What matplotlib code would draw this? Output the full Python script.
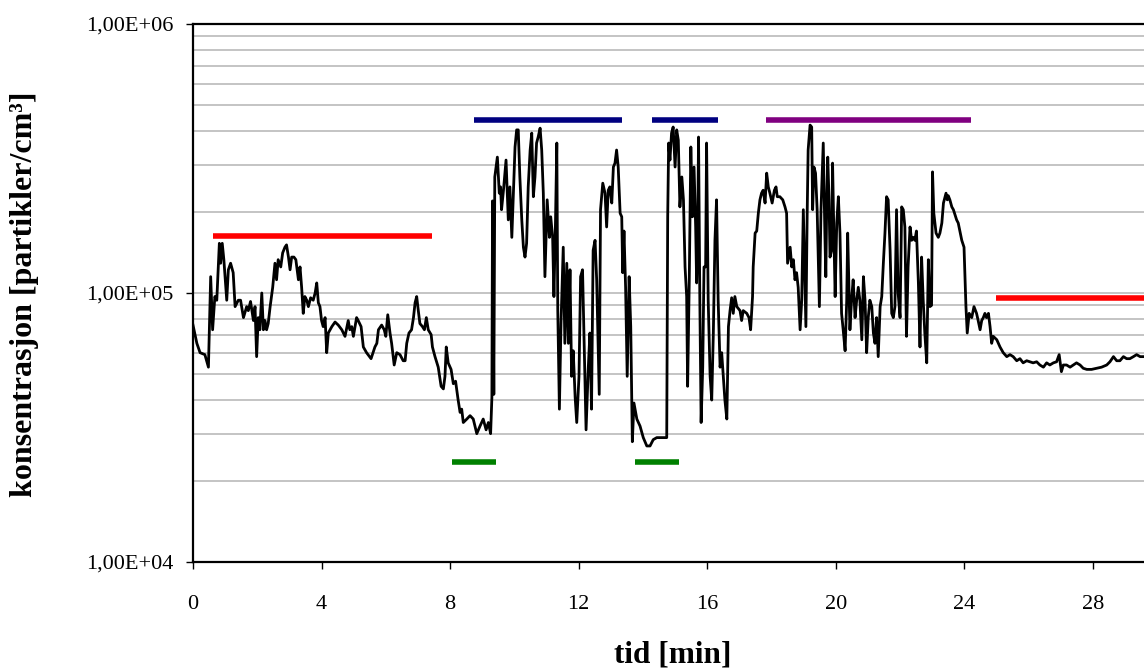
import matplotlib
matplotlib.use("Agg")
import matplotlib.pyplot as plt
from matplotlib.ticker import LogLocator, FuncFormatter, NullFormatter, FixedLocator

# ---- data ----
time_min = [
    0.00, 0.12, 0.22, 0.37, 0.48, 0.55, 0.61, 0.68, 0.74, 0.82, 0.86, 0.91, 0.96, 1.05, 1.10, 1.17, 1.25, 1.31,
    1.41, 1.48, 1.52, 1.57, 1.67, 1.72, 1.79, 1.88, 1.93, 1.98, 2.03, 2.08, 2.14, 2.19, 2.24, 2.29, 2.34, 2.40,
    2.48, 2.55, 2.60, 2.65, 2.73, 2.79, 2.86, 2.91, 2.97, 3.02, 3.07, 3.14, 3.20, 3.28, 3.33, 3.38, 3.43, 3.48,
    3.54, 3.59, 3.66, 3.74, 3.80, 3.85, 3.90, 3.95, 4.00, 4.05, 4.11, 4.16, 4.21, 4.32, 4.42, 4.52, 4.63, 4.73,
    4.83, 4.88, 4.94, 4.99, 5.09, 5.14, 5.23, 5.30, 5.40, 5.54, 5.66, 5.72, 5.77, 5.87, 5.95, 6.00, 6.06, 6.13,
    6.18, 6.26, 6.34, 6.44, 6.54, 6.60, 6.65, 6.72, 6.80, 6.86, 6.91, 6.96, 7.01, 7.06, 7.14, 7.20, 7.26, 7.32,
    7.41, 7.45, 7.53, 7.63, 7.72, 7.79, 7.84, 7.88, 7.94, 8.03, 8.10, 8.17, 8.25, 8.31, 8.36, 8.41, 8.52, 8.62,
    8.72, 8.83, 8.93, 9.03, 9.12, 9.19, 9.26, 9.30, 9.32, 9.36, 9.39, 9.47, 9.53, 9.57, 9.60, 9.66, 9.74, 9.81,
    9.86, 9.92, 9.97, 10.02, 10.07, 10.12, 10.17, 10.23, 10.28, 10.33, 10.38, 10.43, 10.49, 10.54, 10.59, 10.64,
    10.69, 10.74, 10.80, 10.85, 10.90, 10.95, 11.02, 11.09, 11.13, 11.19, 11.23, 11.28, 11.32, 11.35, 11.40,
    11.45, 11.52, 11.57, 11.63, 11.68, 11.73, 11.78, 11.83, 11.89, 11.94, 12.01, 12.06, 12.12, 12.17, 12.23,
    12.30, 12.35, 12.40, 12.45, 12.51, 12.56, 12.64, 12.68, 12.75, 12.82, 12.87, 12.92, 12.97, 13.03, 13.08,
    13.13, 13.18, 13.23, 13.29, 13.34, 13.37, 13.41, 13.46, 13.51, 13.57, 13.62, 13.67, 13.72, 13.81, 13.91,
    14.01, 14.12, 14.22, 14.32, 14.43, 14.53, 14.63, 14.74, 14.77, 14.80, 14.84, 14.89, 14.94, 15.00, 15.05,
    15.10, 15.15, 15.21, 15.26, 15.31, 15.36, 15.39, 15.44, 15.49, 15.54, 15.59, 15.64, 15.67, 15.70, 15.73,
    15.77, 15.81, 15.86, 15.90, 15.95, 15.98, 16.03, 16.09, 16.14, 16.19, 16.24, 16.29, 16.34, 16.40, 16.45,
    16.50, 16.55, 16.61, 16.66, 16.71, 16.76, 16.81, 16.86, 16.92, 17.02, 17.07, 17.12, 17.23, 17.30, 17.35,
    17.41, 17.43, 17.49, 17.54, 17.59, 17.64, 17.69, 17.74, 17.80, 17.85, 17.90, 17.95, 18.02, 18.09, 18.14,
    18.18, 18.26, 18.35, 18.42, 18.47, 18.50, 18.58, 18.63, 18.68, 18.73, 18.78, 18.83, 18.89, 18.94, 18.99,
    19.04, 19.07, 19.11, 19.14, 19.20, 19.25, 19.28, 19.32, 19.37, 19.42, 19.49, 19.54, 19.61, 19.66, 19.69,
    19.72, 19.75, 19.79, 19.82, 19.87, 19.90, 19.94, 19.98, 20.03, 20.08, 20.13, 20.18, 20.23, 20.29, 20.34,
    20.37, 20.41, 20.44, 20.49, 20.54, 20.60, 20.65, 20.70, 20.75, 20.81, 20.86, 20.91, 20.96, 21.01, 21.06,
    21.12, 21.17, 21.22, 21.27, 21.32, 21.38, 21.43, 21.48, 21.53, 21.58, 21.63, 21.69, 21.74, 21.79, 21.84,
    21.89, 21.94, 22.00, 22.05, 22.10, 22.15, 22.20, 22.25, 22.31, 22.36, 22.41, 22.46, 22.51, 22.57, 22.62,
    22.67, 22.72, 22.77, 22.83, 22.88, 22.93, 22.98, 23.01, 23.05, 23.12, 23.19, 23.24, 23.30, 23.35, 23.43,
    23.47, 23.50, 23.55, 23.61, 23.66, 23.71, 23.76, 23.81, 23.92, 23.99, 24.05, 24.09, 24.15, 24.23, 24.30,
    24.38, 24.43, 24.49, 24.54, 24.59, 24.64, 24.69, 24.75, 24.80, 24.85, 24.90, 25.01, 25.11, 25.21, 25.32,
    25.42, 25.52, 25.63, 25.73, 25.83, 25.94, 26.04, 26.14, 26.25, 26.35, 26.46, 26.56, 26.66, 26.77, 26.87,
    26.95, 27.02, 27.08, 27.18, 27.29, 27.39, 27.49, 27.60, 27.70, 27.81, 27.96, 28.12, 28.27, 28.43, 28.53,
    28.64, 28.74, 28.84, 28.95, 29.05, 29.15, 29.26, 29.36, 29.47, 29.59,
]

konsentrasjon = [
    7.6e4, 6.5e4, 6.0e4, 5.9e4, 5.3e4, 1.15e5, 7.3e4, 9.7e4, 9.4e4, 1.53e5, 1.29e5, 1.53e5, 1.33e5, 9.4e4, 1.22e5, 1.29e5, 1.19e5, 8.9e4,
    9.4e4, 9.4e4, 8.8e4, 8.1e4, 8.9e4, 8.6e4, 9.3e4, 7.9e4, 8.9e4, 5.8e4, 8.1e4, 7.3e4, 1.0e5, 7.3e4, 7.9e4, 7.3e4, 7.7e4, 8.9e4,
    1.05e5, 1.29e5, 1.12e5, 1.33e5, 1.25e5, 1.41e5, 1.48e5, 1.51e5, 1.36e5, 1.22e5, 1.36e5, 1.36e5, 1.33e5, 1.12e5, 1.25e5, 1.05e5, 8.4e4, 9.7e4,
    9.4e4, 8.9e4, 9.6e4, 9.4e4, 1.0e5, 1.09e5, 9.2e4, 8.9e4, 7.9e4, 7.5e4, 8.1e4, 6.0e4, 7.1e4, 7.5e4, 7.8e4, 7.6e4, 7.3e4, 6.9e4,
    7.9e4, 7.3e4, 7.5e4, 6.9e4, 8.1e4, 7.9e4, 7.5e4, 6.3e4, 6.0e4, 5.7e4, 6.3e4, 6.5e4, 7.3e4, 7.6e4, 7.3e4, 6.9e4, 8.3e4, 7.1e4,
    6.5e4, 5.4e4, 6.0e4, 5.9e4, 5.6e4, 5.6e4, 6.5e4, 7.1e4, 7.3e4, 8.1e4, 9.2e4, 9.7e4, 8.6e4, 7.7e4, 7.5e4, 7.3e4, 8.1e4, 7.3e4,
    7.0e4, 6.3e4, 5.8e4, 5.3e4, 4.5e4, 4.4e4, 4.9e4, 6.3e4, 5.5e4, 5.2e4, 4.6e4, 4.7e4, 4.0e4, 3.6e4, 3.7e4, 3.3e4, 3.4e4, 3.5e4,
    3.4e4, 3.0e4, 3.2e4, 3.4e4, 3.1e4, 3.3e4, 3.0e4, 4.1e4, 2.2e5, 4.2e4, 2.7e5, 3.2e5, 2.35e5, 2.48e5, 2.04e5, 2.41e5, 3.12e5, 1.87e5,
    2.48e5, 1.61e5, 2.35e5, 3.49e5, 4.04e5, 4.04e5, 2.7e5, 1.87e5, 1.48e5, 1.36e5, 1.53e5, 2.48e5, 3.4e5, 3.93e5, 2.28e5, 2.7e5,
    3.61e5, 3.8e5, 4.1e5, 3.4e5, 2.35e5, 1.15e5, 2.22e5, 1.61e5, 1.92e5, 1.61e5, 9.7e4, 1.87e5, 3.61e5, 8.6e4, 3.7e4,
    7.7e4, 1.48e5, 6.5e4, 1.29e5, 6.5e4, 1.22e5, 4.9e4, 6.1e4, 4.1e4, 3.3e4, 4.9e4, 1.15e5, 1.22e5, 6.5e4, 3.1e4,
    5.3e4, 7.1e4, 3.7e4, 1.44e5, 1.57e5, 1.12e5, 4.2e4, 2.04e5, 2.56e5, 2.35e5, 1.76e5, 2.41e5, 2.48e5, 2.16e5, 2.94e5,
    3.04e5, 3.4e5, 2.94e5, 1.98e5, 1.92e5, 1.19e5, 1.7e5, 1.05e5, 4.9e4, 1.15e5, 7.5e4, 2.8e4, 3.9e4, 3.4e4, 3.2e4,
    2.9e4, 2.7e4, 2.7e4, 2.85e4, 2.9e4, 2.9e4, 2.9e4, 2.9e4, 1.92e5, 3.61e5, 3.12e5, 3.93e5, 4.14e5, 2.94e5, 4.04e5,
    3.7e5, 2.09e5, 2.7e5, 2.22e5, 1.25e5, 9.7e4, 4.5e4, 1.09e5, 3.49e5, 1.92e5, 2.94e5, 1.76e5, 1.09e5, 1.57e5, 3.8e5,
    9.4e4, 3.3e4, 5.3e4, 1.25e5, 1.25e5, 3.61e5, 9.4e4, 4.9e4, 4.0e4, 7.1e4, 1.57e5, 2.22e5, 9.4e4, 5.3e4, 6.0e4,
    4.9e4, 4.0e4, 3.4e4, 7.5e4, 8.6e4, 9.6e4, 8.4e4, 9.7e4, 8.9e4, 8.6e4, 7.9e4, 8.6e4, 8.4e4, 8.1e4, 7.3e4,
    9.7e4, 1.25e5, 1.67e5, 1.7e5, 1.98e5, 2.22e5, 2.35e5, 2.41e5, 2.16e5, 2.79e5, 2.48e5, 2.35e5, 2.16e5, 2.41e5, 2.48e5,
    2.28e5, 2.28e5, 2.22e5, 2.09e5, 1.98e5, 1.29e5, 1.48e5, 1.25e5, 1.33e5, 1.12e5, 1.19e5, 1.05e5, 7.3e4, 9.4e4, 2.04e5,
    1.09e5, 7.5e4, 1.98e5, 3.4e5, 4.21e5, 4.14e5, 2.04e5, 2.94e5, 2.79e5, 2.04e5, 8.9e4, 2.04e5, 3.61e5, 1.67e5, 1.15e5,
    2.22e5, 3.2e5, 2.22e5, 1.36e5, 1.44e5, 3.04e5, 1.67e5, 9.7e4, 1.82e5, 2.28e5, 1.67e5, 8.4e4, 7.3e4, 6.1e4, 9.4e4,
    1.67e5, 1.05e5, 7.3e4, 9.4e4, 1.12e5, 8.1e4, 9.4e4, 1.05e5, 9.4e4, 6.7e4, 1.15e5, 9.4e4, 6.0e4, 8.1e4, 9.4e4,
    8.9e4, 7.1e4, 6.5e4, 8.1e4, 5.8e4, 8.9e4, 9.7e4, 1.29e5, 1.67e5, 2.28e5, 2.22e5, 1.44e5, 8.4e4, 8.1e4, 8.9e4,
    2.04e5, 1.0e5, 8.1e4, 2.09e5, 2.04e5, 1.76e5, 6.9e4, 1.25e5, 1.76e5, 1.57e5, 1.61e5, 1.57e5, 1.7e5, 1.09e5, 6.3e4,
    1.36e5, 9.4e4, 7.1e4, 5.5e4, 1.33e5, 8.9e4, 9.0e4, 2.82e5, 1.98e5, 1.67e5, 1.61e5, 1.67e5, 1.82e5, 2.16e5, 2.35e5,
    2.22e5, 2.3e5, 2.22e5, 2.09e5, 2.04e5, 1.95e5, 1.87e5, 1.82e5, 1.57e5, 1.48e5, 8.9e4, 7.1e4, 8.4e4, 8.1e4, 8.9e4,
    8.4e4, 7.9e4, 7.3e4, 7.9e4, 8.1e4, 8.4e4, 8.1e4, 8.4e4, 7.5e4, 6.5e4, 6.9e4, 6.7e4, 6.3e4, 6.0e4, 5.8e4,
    5.9e4, 5.8e4, 5.6e4, 5.7e4, 5.5e4, 5.6e4, 5.55e4, 5.5e4, 5.55e4, 5.4e4, 5.3e4, 5.5e4, 5.4e4, 5.5e4, 5.55e4,
    5.9e4, 5.1e4, 5.4e4, 5.4e4, 5.3e4, 5.4e4, 5.5e4, 5.4e4, 5.25e4, 5.2e4, 5.2e4, 5.25e4, 5.3e4, 5.4e4, 5.55e4,
    5.8e4, 5.6e4, 5.6e4, 5.8e4, 5.7e4, 5.7e4, 5.8e4, 5.9e4, 5.8e4, 5.8e4,
]

# horizontal marker bars
bar_start = [0.63, 8.74, 14.28, 17.83, 25.0, 8.06, 13.75]
bar_end = [7.43, 13.34, 16.33, 24.2, 29.59, 9.43, 15.12]
bar_level = [1.63e5, 4.4e5, 4.4e5, 4.4e5, 9.6e4, 2.35e4, 2.35e4]
bar_color = ["#ff0000", "#000080", "#000080", "#800080", "#ff0000", "#008000", "#008000"]

x_ticks = [0, 4, 8, 12, 16, 20, 24, 28]
y_ticks = [1e4, 1e5, 1e6]

# ---- figure ----
plt.rcParams["font.family"] = ["Liberation Serif", "DejaVu Serif"]
fig = plt.figure(figsize=(11.44, 6.68), dpi=100)
ax = fig.add_axes([193 / 1144, 1 - 562 / 668, 1 - 193 / 1144, (562 - 24) / 668])

ax.set_yscale("log")
ax.set_ylim(1e4, 1e6)
ax.set_xlim(0, 29.59)

ax.yaxis.set_major_locator(FixedLocator(y_ticks))
ax.yaxis.set_minor_locator(LogLocator(base=10, subs=[2, 3, 4, 5, 6, 7, 8, 9]))
ax.yaxis.set_minor_formatter(NullFormatter())
ax.yaxis.set_major_formatter(FuncFormatter(lambda v, p: f"{v:.2E}".replace(".", ",")))
ax.set_xticks(x_ticks)

ax.grid(True, axis="y", which="both", color="#b4b4b4", lw=1.1, zorder=0)
ax.set_axisbelow(True)

ax.plot(time_min, konsentrasjon, color="black", lw=2.0, zorder=3)
for s, e, lv, c in zip(bar_start, bar_end, bar_level, bar_color):
    ax.plot([s, e], [lv, lv], color=c, lw=4, solid_capstyle="butt", zorder=4)

for side in ["left", "bottom", "top"]:
    ax.spines[side].set_linewidth(1.6)
    ax.spines[side].set_color("black")
ax.spines["right"].set_visible(False)

ax.tick_params(axis="x", which="major", direction="out", length=5, width=1, labelsize=16, pad=19)
ax.tick_params(axis="y", which="major", direction="out", length=5, width=1, labelsize=16, pad=9)
ax.tick_params(axis="y", which="minor", length=0)

ax.set_xlabel("tid [min]", fontsize=22.5, fontweight="bold")
ax.xaxis.set_label_coords((673 - 193) / 951, -(655 - 562) / 538)
ax.set_ylabel("konsentrasjon [partikler/cm³]", fontsize=23, fontweight="bold")
ax.yaxis.set_label_coords(-(193 - 25) / 951, (562 - 294) / 538)
ax.xaxis.label.set_va("center")
ax.yaxis.label.set_va("center")

fig.savefig("out.png", dpi=100)
